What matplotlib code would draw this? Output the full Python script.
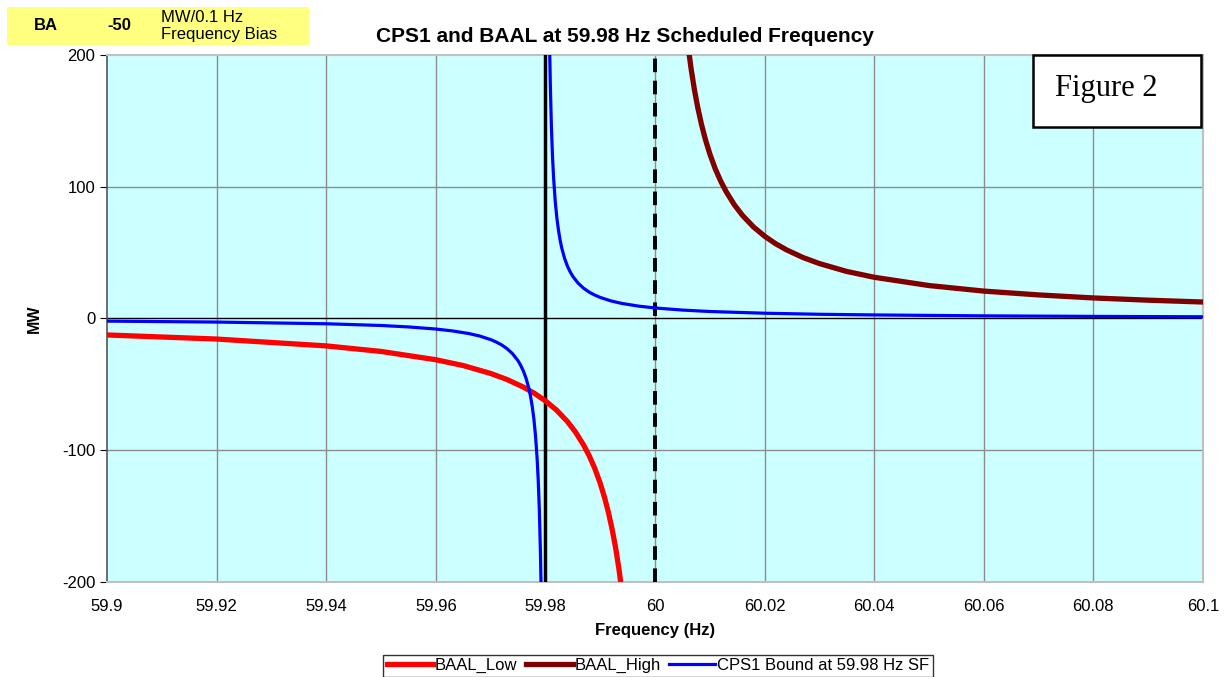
import numpy as np
import matplotlib
matplotlib.use("Agg")
import matplotlib.pyplot as plt
from matplotlib.patches import Rectangle

plt.rcParams['font.family'] = ['Liberation Sans', 'DejaVu Sans']
plt.rcParams['axes.unicode_minus'] = False

# values (Hz, MW)
low_f = [59.9, 59.92, 59.94, 59.95, 59.96, 59.965, 59.97, 59.973, 59.976, 59.978,
         59.98, 59.982, 59.984, 59.9855, 59.987, 59.988, 59.989, 59.99, 59.9908,
         59.9915, 59.9922, 59.9928, 59.9934, 59.9939]
low_mw = [-12.5, -15.6, -20.8, -25.0, -31.3, -35.7, -41.7, -46.3, -52.1, -56.8,
          -62.5, -69.4, -78.1, -86.2, -96.2, -104.2, -113.6, -125.0, -135.9,
          -147.1, -160.3, -173.6, -189.4, -204.9]

high_f = [60.0061, 60.0066, 60.0072, 60.0078, 60.0085, 60.0092, 60.01, 60.011,
          60.012, 60.013, 60.0145, 60.016, 60.018, 60.02, 60.022, 60.024, 60.027,
          60.03, 60.035, 60.04, 60.05, 60.06, 60.07, 60.08, 60.09, 60.1]
high_mw = [204.9, 189.4, 173.6, 160.3, 147.1, 135.9, 125.0, 113.6,
           104.2, 96.2, 86.2, 78.1, 69.4, 62.5, 56.8, 52.1, 46.3,
           41.7, 35.7, 31.3, 25.0, 20.8, 17.9, 15.6, 13.9, 12.5]

cps_left_f = [59.9, 59.92, 59.94, 59.95, 59.955, 59.96, 59.963, 59.966, 59.968,
              59.97, 59.971, 59.972, 59.973, 59.974, 59.975, 59.9755, 59.976,
              59.9765, 59.977, 59.9773, 59.9776, 59.9779, 59.9782, 59.9785,
              59.9787, 59.9789, 59.9791, 59.9792]
cps_left_mw = [-2.0, -2.7, -4.0, -5.3, -6.4, -8.0, -9.4, -11.4, -13.3,
               -16.0, -17.8, -20.0, -22.9, -26.7, -32.0, -35.6, -40.0,
               -45.7, -53.3, -59.3, -66.7, -76.2, -88.9, -106.7,
               -123.1, -145.5, -177.8, -200.0]

cps_right_f = [59.9807, 59.9808, 59.9809, 59.9811, 59.9813, 59.9815, 59.9818,
               59.9821, 59.9824, 59.9827, 59.983, 59.9835, 59.984, 59.9845, 59.985,
               59.986, 59.987, 59.988, 59.989, 59.99, 59.992, 59.994, 59.997, 60.0,
               60.005, 60.01, 60.02, 60.03, 60.04, 60.06, 60.08, 60.1]
cps_right_mw = [228.6, 200.0, 177.8, 145.5, 123.1, 106.7, 88.9,
                76.2, 66.7, 59.3, 53.3, 45.7, 40.0, 35.6, 32.0,
                26.7, 22.9, 20.0, 17.8, 16.0, 13.3, 11.4, 9.4, 8.0,
                6.4, 5.3, 4.0, 3.2, 2.7, 2.0, 1.6, 1.3]

sched_f = 59.98
nominal_f = 60.0
x_ticks = [59.9, 59.92, 59.94, 59.96, 59.98, 60, 60.02, 60.04, 60.06, 60.08, 60.1]
x_labels = ['59.9', '59.92', '59.94', '59.96', '59.98', '60', '60.02', '60.04',
            '60.06', '60.08', '60.1']
y_ticks = [-200, -100, 0, 100, 200]

fig = plt.figure(figsize=(12.27, 6.77), dpi=100)
ax = fig.add_axes([0.0872, 0.1403, 0.8932, 0.7785])
ax.set_facecolor('#CCFFFF')

for xv in x_ticks[1:-1]:
    ax.axvline(xv, color='#8c8c8c', lw=1, zorder=1)
for yv in [-100, 100]:
    ax.axhline(yv, color='#8c8c8c', lw=1, zorder=1)
ax.axhline(0, color='black', lw=1, zorder=2)

ax.axvline(sched_f, color='black', lw=2.5, zorder=3)
ax.axvline(nominal_f, color='black', lw=2.8, linestyle=(0, (3.5, 2.2)), zorder=3)

l1, = ax.plot(low_f, low_mw, color='#FF0000', lw=3.8, zorder=4, label='BAAL_Low')
l2, = ax.plot(high_f, high_mw, color='#800000', lw=3.8, zorder=4, label='BAAL_High')
l3, = ax.plot(cps_left_f, cps_left_mw, color='#0000FF', lw=2.3, zorder=5,
              label='CPS1 Bound at 59.98 Hz SF')
ax.plot(cps_right_f, cps_right_mw, color='#0000FF', lw=2.3, zorder=5)

ax.set_xlim(59.9, 60.1)
ax.set_ylim(-200, 200)
ax.set_xticks(x_ticks)
ax.set_xticklabels(x_labels)
ax.set_yticks(y_ticks)
ax.tick_params(axis='x', length=0, labelsize=12, pad=12)
ax.tick_params(axis='y', length=5, direction='out', labelsize=12, color='black')

for s in ['top', 'right', 'bottom']:
    ax.spines[s].set_color('#c0c0c0')
    ax.spines[s].set_linewidth(1.5)
ax.spines['left'].set_color('#555555')
ax.spines['left'].set_linewidth(1.2)

ax.set_xlabel('Frequency (Hz)', fontsize=12, fontweight='bold', labelpad=7)
ax.set_ylabel('MW', fontsize=11.5, fontweight='bold')
ax.yaxis.set_label_coords(-0.059, 0.5)
fig.text(625 / 1227, 1 - 36 / 677, 'CPS1 and BAAL at 59.98 Hz Scheduled Frequency',
         ha='center', va='center', fontsize=15, fontweight='bold')

# Figure 2 label box
ax.add_patch(Rectangle((0.845, 0.863), 0.153, 0.137, transform=ax.transAxes,
                       fc='white', ec='black', lw=1.8, zorder=7, clip_on=False))
ax.text(0.912, 0.937, 'Figure 2', transform=ax.transAxes, ha='center', va='center',
        fontsize=22, family=['Liberation Serif', 'DejaVu Serif'], zorder=8)

# bias cells in top-left
fig.patches.append(Rectangle((7 / 1227, 1 - 45 / 677), 302 / 1227, 38 / 677,
                             transform=fig.transFigure, fc='#FFFF80', ec='none'))
fig.text(34 / 1227, 1 - 26 / 677, 'BA', fontsize=12, fontweight='bold', va='center')
fig.text(107 / 1227, 1 - 26 / 677, '-50', fontsize=12, fontweight='bold', va='center')
fig.text(161 / 1227, 1 - 17 / 677, 'MW/0.1 Hz', fontsize=12, va='center')
fig.text(161 / 1227, 1 - 35 / 677, 'Frequency Bias', fontsize=12, va='center')

leg = fig.legend(handles=[l1, l2, l3], loc='upper center', ncol=3,
                 bbox_to_anchor=(658 / 1227, 1 - 655 / 677), fontsize=12,
                 frameon=True, fancybox=False, edgecolor='black', handlelength=2.8,
                 handletextpad=0.1, columnspacing=0.5, borderpad=0.2,
                 borderaxespad=0)
leg.get_frame().set_linewidth(1)

fig.savefig('out.png', dpi=100)
